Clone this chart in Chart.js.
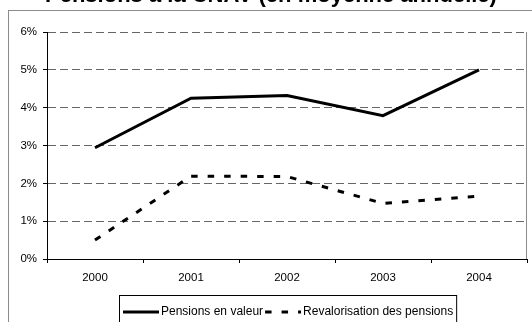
<!DOCTYPE html>
<html>
<head>
<meta charset="utf-8">
<script src="https://cdn.jsdelivr.net/npm/chart.js@4"></script>
<style>
html,body{margin:0;padding:0;background:#fff;}
canvas{display:block;}
</style>
</head>
<body>
<canvas id="c" width="532" height="322"></canvas>
<script>
const titleText = 'Pensions à la CNAV (en moyenne annuelle)';
const categories = ['2000', '2001', '2002', '2003', '2004'];
const pensionsValeur = [2.94, 4.25, 4.32, 3.79, 5.0];
const revalorisation = [0.5, 2.19, 2.18, 1.47, 1.66];
const seriesLabels = ['Pensions en valeur', 'Revalorisation des pensions'];
const yTicks = [0, 1, 2, 3, 4, 5, 6];

const FONT = 'Arial, "Liberation Sans", sans-serif';
Chart.defaults.font.family = FONT;
Chart.defaults.color = '#000';

const framePlugin = {
  id: 'frame',
  beforeDraw(chart) {
    const ctx = chart.ctx;
    ctx.save();
    ctx.fillStyle = '#fff';
    ctx.fillRect(0, 0, chart.width, chart.height);
    // outer chart frame (continues beyond the visible crop)
    ctx.strokeStyle = '#8c8c8c';
    ctx.lineWidth = 1;
    ctx.strokeRect(8.5, 10.5, chart.width + 20, chart.height + 50);
    // title, almost entirely cropped at the top
    ctx.fillStyle = '#000';
    ctx.font = 'bold 22px ' + FONT;
    ctx.textAlign = 'left';
    ctx.textBaseline = 'alphabetic';
    ctx.fillText(titleText, 45, 1.5);
    ctx.restore();
  },
  afterDraw(chart) {
    const ctx = chart.ctx;
    const a = chart.chartArea;
    ctx.save();
    // plot area right border
    ctx.strokeStyle = '#8c8c8c';
    ctx.lineWidth = 1;
    ctx.beginPath();
    ctx.moveTo(Math.round(a.right) - 0.5, a.top);
    ctx.lineTo(Math.round(a.right) - 0.5, a.bottom);
    ctx.stroke();

    // legend
    ctx.font = '12px ' + FONT;
    const ds = chart.data.datasets;
    const sample = 36;
    const widths = ds.map(d => ctx.measureText(d.label).width);
    let W = 4 + 3;
    widths.forEach((w, i) => { W += sample + 2 + w + (i < widths.length - 1 ? 2 : 0); });
    const cx = (a.left + a.right) / 2 + 1;
    const left = Math.round(cx - W / 2);
    const top = 295.5;
    ctx.strokeStyle = '#000';
    ctx.lineWidth = 1;
    ctx.strokeRect(left + 0.5, top, W, 60);
    let x = left + 4;
    const y = 312;
    ds.forEach((d, i) => {
      ctx.beginPath();
      ctx.setLineDash(d.borderDash || []);
      ctx.lineWidth = d.borderWidth;
      ctx.strokeStyle = d.borderColor;
      ctx.moveTo(x, y);
      ctx.lineTo(x + sample, y);
      ctx.stroke();
      ctx.setLineDash([]);
      x += sample + 2;
      ctx.fillStyle = '#000';
      ctx.textAlign = 'left';
      ctx.textBaseline = 'middle';
      ctx.fillText(d.label, x, y);
      x += widths[i] + 2;
    });
    ctx.restore();
  }
};

new Chart(document.getElementById('c'), {
  type: 'line',
  data: {
    labels: categories,
    datasets: [
      {
        label: seriesLabels[0],
        data: pensionsValeur,
        borderColor: '#000',
        borderWidth: 3,
        pointRadius: 0,
        tension: 0,
        fill: false
      },
      {
        label: seriesLabels[1],
        data: revalorisation,
        borderColor: '#000',
        borderWidth: 3,
        borderDash: [6.5, 10],
        borderCapStyle: 'butt',
        pointRadius: 0,
        tension: 0,
        fill: false
      }
    ]
  },
  options: {
    responsive: false,
    animation: false,
    layout: { padding: { top: 32, left: 0, right: 5, bottom: 33 } },
    plugins: {
      legend: { display: false },
      title: { display: false },
      tooltip: { enabled: false }
    },
    scales: {
      x: {
        offset: true,
        afterFit(s) { s.height = 30; },
        grid: {
          offset: true,
          drawOnChartArea: false,
          drawTicks: true,
          tickLength: 4,
          tickColor: '#000'
        },
        border: { display: true, color: '#000', width: 1 },
        ticks: { font: { size: 11.5 }, color: '#000', padding: 8, maxRotation: 0 }
      },
      y: {
        min: 0,
        max: 6,
        afterFit(s) { s.width = 47; },
        afterBuildTicks(s) { s.ticks = yTicks.map(v => ({ value: v })); },
        grid: {
          color: '#666',
          lineWidth: 1,
          drawTicks: true,
          tickLength: 4,
          tickColor: '#000'
        },
        border: { display: true, color: '#000', width: 1, dash: [8, 4] },
        ticks: {
          font: { size: 11.5 },
          color: '#000',
          padding: 6,
          callback: v => v + '%'
        }
      }
    }
  },
  plugins: [framePlugin]
});
</script>
</body>
</html>
